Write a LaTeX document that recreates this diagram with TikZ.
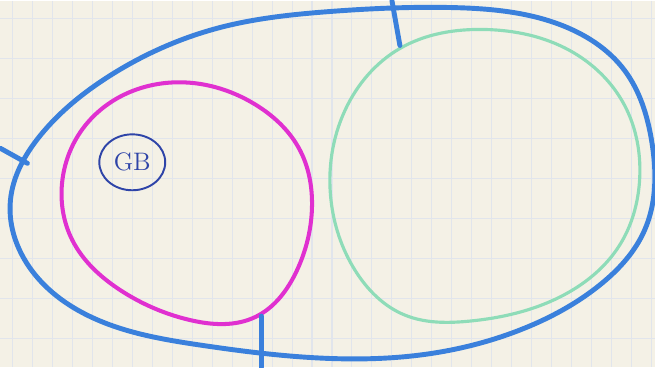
\documentclass[tikz,border=0pt]{standalone}
\usepackage{tikz}
\usetikzlibrary{positioning,shapes.geometric,hobby}
\definecolor{PaperCream}{HTML}{F4F1E6}
\definecolor{GridBlue}{HTML}{E1E5EC}
\definecolor{PenBlue}{HTML}{3A80DC}
\definecolor{PenMagenta}{HTML}{E030D0}
\definecolor{PenGreen}{HTML}{8EDCB8}
\definecolor{InkBlue}{HTML}{2E44A8}

\begin{document}
\begin{tikzpicture}[x=0.02cm,y=-0.02cm,
  bluepen/.style={PenBlue,line width=2.8pt,line cap=round},
  every node/.style={font=\Large}]
\fill[PaperCream] (0,0) rectangle (655,367);
\foreach \gx in {12,32,...,655} \draw[GridBlue,line width=0.6pt] (\gx,0) -- (\gx,367);
\foreach \gy in {18,58,...,367} \draw[GridBlue,line width=0.5pt] (0,\gy) -- (655,\gy);
\useasboundingbox (0,0) rectangle (655,367);
% outer set
\draw[PenBlue,line width=2.8pt,use Hobby shortcut,closed=true] (10,200) .. (40,135) .. (110,75) .. (220,27) .. (330,11) .. (450,7) .. (560,24) .. (625,70) .. (652,140) .. (645,230) .. (600,285) .. (520,330) .. (420,355) .. (320,358) .. (200,345) .. (100,321) .. (35,275);
% left set
\draw[PenMagenta,line width=2.3pt,use Hobby shortcut,closed=true] (173,82) .. (255,104) .. (300,150) .. (312,205) .. (297,270) .. (255,317) .. (190,320) .. (120,290) .. (72,240) .. (62,180) .. (85,125);
% right set
\draw[PenGreen,line width=1.8pt,use Hobby shortcut,closed=true] (485,29) .. (570,50) .. (625,105) .. (640,180) .. (620,245) .. (560,297) .. (470,321) .. (405,315) .. (355,270) .. (331,200) .. (345,110) .. (400,48);
\node[draw=InkBlue,line width=1.1pt,ellipse,minimum width=1.32cm,minimum height=1.12cm,text=InkBlue,inner sep=0pt] (gb) at (132,162) {GB};
\coordinate (topend) at (392,0);
\coordinate (topon) at (400,45);
\coordinate (leftend) at (0,148);
\coordinate (lefton) at (27,163);
\coordinate (botend) at (261,367);
\coordinate (boton) at (261,316);
\draw[bluepen] (topend) -- (topon);
\draw[bluepen] (leftend) -- (lefton);
\draw[bluepen] (boton) -- (botend);
\end{tikzpicture}
\end{document}
